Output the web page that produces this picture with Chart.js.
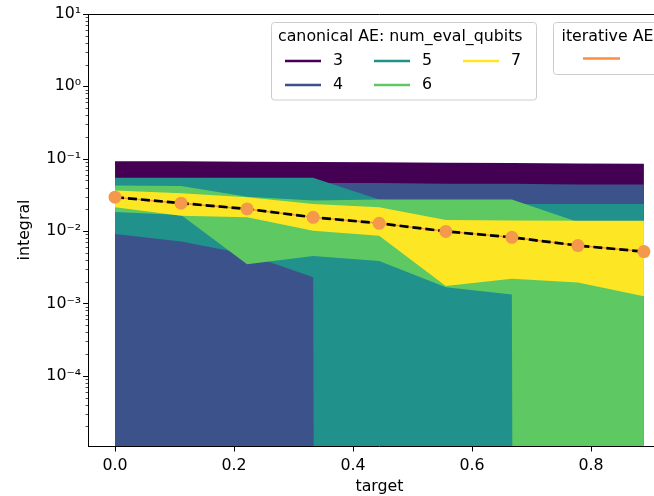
<!DOCTYPE html>
<html>
<head>
<meta charset="utf-8">
<script src="https://cdn.jsdelivr.net/npm/chart.js@4.4.1/dist/chart.umd.min.js"></script>
<style>
  html, body { margin: 0; padding: 0; background: #fff; overflow: hidden; }
  #wrap { position: relative; width: 700px; height: 496px; }
</style>
</head>
<body>
<div id="wrap"><canvas id="chart" width="700" height="496"></canvas></div>
<script>
// target values on the x axis
const targets = [0, 0.111, 0.222, 0.333, 0.444, 0.556, 0.667, 0.778, 0.889];

// canonical AE confidence bands, one pair per num_eval_qubits (0 = no lower bound)
const qubits = [3, 4, 5, 6, 7];
const upper3 = [0.092, 0.092, 0.091, 0.090, 0.089, 0.088, 0.087, 0.086, 0.085];
const lower3 = [0, 0, 0, 0, 0, 0, 0, 0, 0];
const upper4 = [0.046, 0.046, 0.046, 0.046, 0.046, 0.045, 0.045, 0.044, 0.044];
const lower4 = [0, 0, 0, 0, 0, 0, 0, 0, 0];
const upper5 = [0.0545, 0.0545, 0.0545, 0.0545, 0.0274, 0.0253, 0.0237, 0.0237, 0.0237];
const lower5 = [0.0091, 0.0072, 0.0048, 0.0023, 0, 0, 0, 0, 0];
const upper6 = [0.0426, 0.0418, 0.0297, 0.0265, 0.0272, 0.0272, 0.0272, 0.0133, 0.0129];
const lower6 = [0.0184, 0.0167, 0.00348, 0.00454, 0.00387, 0.00167, 0.00133, 0, 0];
const upper7 = [0.0363, 0.0334, 0.0294, 0.0237, 0.0213, 0.0142, 0.0140, 0.0139, 0.0139];
const lower7 = [0.0213, 0.0163, 0.0155, 0.0101, 0.0086, 0.00174, 0.0022, 0.00194, 0.00126];

// iterative AE estimates
const iterative = [0.0294, 0.0243, 0.0202, 0.0155, 0.0128, 0.0099, 0.0082, 0.0063, 0.0052];

const xTicks = [0, 0.2, 0.4, 0.6, 0.8];
const yMajorTicks = [1e-4, 1e-3, 1e-2, 1e-1, 1, 10];

const viridis = ['#440154', '#3b528b', '#21918c', '#5ec962', '#fde725'];
const orange = '#f4994b';
const FONT = 'DejaVu Sans';
const FS = 15.8;

// matplotlib clips nonpositive values on a log axis to a tiny number
const FLOOR = 1e-300;
const pts = arr => arr.map((v, i) => ({x: targets[i], y: v > 0 ? v : FLOOR}));

const bands = [[lower3, upper3], [lower4, upper4], [lower5, upper5], [lower6, upper6], [lower7, upper7]];
const datasets = [];
bands.forEach(([lo, hi], i) => {
  datasets.push({data: pts(lo), borderWidth: 0, borderColor: 'transparent', pointRadius: 0, fill: false, order: 20 - i});
  datasets.push({data: pts(hi), borderWidth: 0, borderColor: 'transparent', pointRadius: 0,
    backgroundColor: viridis[i], fill: '-1', order: 20 - i});
});
datasets.push({data: pts(iterative), borderColor: '#f98f3f', borderWidth: 1.5, pointRadius: 0, fill: false, order: 3});
datasets.push({data: pts(iterative), borderColor: '#000', borderWidth: 2.7, borderDash: [9, 4], pointRadius: 0, fill: false, order: 2});
datasets.push({data: pts(iterative), showLine: false, pointRadius: 6.5, pointBackgroundColor: orange,
  pointBorderWidth: 0, fill: false, order: 1});

const yTickValues = [];
for (let e = -5; e <= 0; e++) {
  for (let m = 1; m <= 9; m++) yTickValues.push(m * Math.pow(10, e));
}
yTickValues.push(10);

const supDigits = {'-': '⁻', '0': '⁰', '1': '¹', '2': '²', '3': '³', '4': '⁴', '5': '⁵', '6': '⁶', '7': '⁷', '8': '⁸', '9': '⁹'};
const powLabel = v => '10' + String(Math.round(Math.log10(v))).split('').map(c => supDigits[c]).join('');
const isMajor = v => yMajorTicks.some(t => Math.abs(Math.log10(v) - Math.log10(t)) < 1e-6);

const tickMarks = {
  id: 'tickMarks',
  afterDraw(chart) {
    const {ctx, chartArea: a, scales: {x, y}} = chart;
    ctx.save();
    ctx.strokeStyle = '#000';
    y.ticks.forEach(t => {
      const py = Math.round(y.getPixelForValue(t.value)) + 0.5;
      if (py < a.top - 1 || py > a.bottom + 1) return;
      const major = isMajor(t.value);
      ctx.lineWidth = major ? 1 : 0.7;
      const len = major ? 5.5 : 3;
      ctx.beginPath(); ctx.moveTo(a.left - len, py); ctx.lineTo(a.left, py); ctx.stroke();
    });
    ctx.lineWidth = 1;
    x.ticks.forEach(t => {
      const px = Math.round(x.getPixelForValue(t.value)) + 0.5;
      ctx.beginPath(); ctx.moveTo(px, a.bottom); ctx.lineTo(px, a.bottom + 5.5); ctx.stroke();
    });
    ctx.beginPath(); ctx.moveTo(a.left, a.top + 0.5); ctx.lineTo(a.right, a.top + 0.5); ctx.stroke();
    ctx.restore();
  }
};

function legendBox(ctx, x, y, w, h) {
  ctx.beginPath();
  ctx.roundRect(x, y, w, h, 3);
  ctx.fillStyle = 'rgba(255,255,255,0.8)';
  ctx.fill();
  ctx.strokeStyle = '#cccccc';
  ctx.lineWidth = 1;
  ctx.stroke();
}

const legends = {
  id: 'legends',
  afterDraw(chart) {
    const ctx = chart.ctx;
    ctx.save();
    ctx.font = FS + 'px "' + FONT + '"';
    ctx.textBaseline = 'middle';
    // canonical AE legend, 3 columns filled column-wise
    legendBox(ctx, 271.5, 22.5, 265, 77.5);
    ctx.fillStyle = '#000';
    ctx.fillText('canonical AE: num_eval_qubits', 278, 37);
    const colX = [285, 374, 463];
    const rowY = [61, 85];
    qubits.forEach((q, i) => {
      const cx = colX[Math.floor(i / 2)], cy = rowY[i % 2];
      ctx.strokeStyle = viridis[i];
      ctx.lineWidth = 2.6;
      ctx.beginPath(); ctx.moveTo(cx, cy); ctx.lineTo(cx + 36, cy); ctx.stroke();
      ctx.fillStyle = '#000';
      ctx.fillText(String(q), cx + 48, cy);
    });
    // iterative AE legend
    legendBox(ctx, 553.5, 22.5, 130, 52);
    ctx.fillStyle = '#000';
    ctx.fillText('iterative AE', 561.5, 37);
    ctx.strokeStyle = '#f98f3f';
    ctx.lineWidth = 2.6;
    ctx.beginPath(); ctx.moveTo(583, 58.5); ctx.lineTo(620, 58.5); ctx.stroke();
    ctx.restore();
  }
};

Chart.defaults.font.family = FONT;
Chart.defaults.font.size = FS;
Chart.defaults.color = '#000';

new Chart(document.getElementById('chart'), {
  type: 'line',
  data: {datasets},
  options: {
    responsive: false,
    animation: false,
    devicePixelRatio: 1,
    layout: {padding: {top: 14, right: 29.7, left: 0, bottom: 0}},
    plugins: {legend: {display: false}, tooltip: {enabled: false}},
    scales: {
      x: {
        type: 'linear',
        bounds: 'data',
        min: -0.0444,
        max: 0.9333,
        afterFit: s => { s.height = 50; },
        afterBuildTicks: s => { s.ticks = xTicks.map(v => ({value: v})); },
        grid: {display: false, drawTicks: true, tickLength: 6},
        border: {display: true, color: '#000', width: 1},
        ticks: {padding: 4, autoSkip: false, maxRotation: 0, callback: v => v.toFixed(1)},
        title: {display: true, text: 'target', padding: {top: 0, bottom: -0.5}}
      },
      y: {
        type: 'logarithmic',
        bounds: 'data',
        min: 1.07e-5,
        max: 10,
        afterFit: s => { s.width = 88.6; },
        afterBuildTicks: s => { s.ticks = yTickValues.map(v => ({value: v})); },
        grid: {display: false, drawTicks: true, tickLength: 6},
        border: {display: true, color: '#000', width: 1},
        ticks: {padding: 1.5, autoSkip: false, callback: v => isMajor(v) ? powLabel(v) : ''},
        title: {display: true, text: 'integral', padding: {top: 15, bottom: 0}}
      }
    }
  },
  plugins: [tickMarks, legends]
});
</script>
</body>
</html>
